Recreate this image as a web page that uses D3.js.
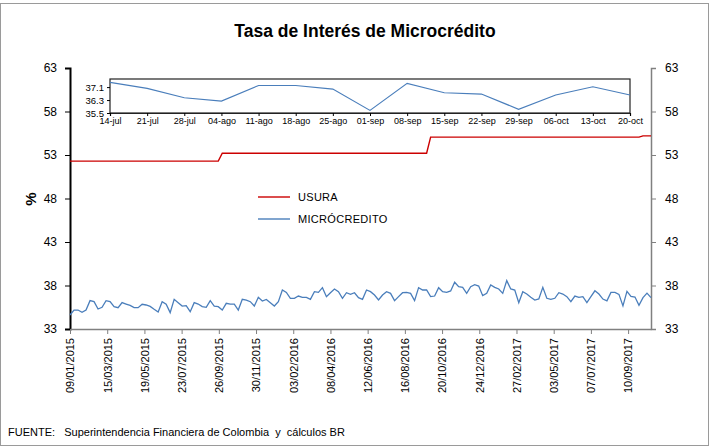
<!DOCTYPE html>
<html>
<head>
<meta charset="utf-8">
<script src="https://cdn.jsdelivr.net/npm/d3@7"></script>
<style>
  body { margin: 0; background: #fff; }
  text { font-family: "Liberation Sans", Arial, sans-serif; fill: #000; }
</style>
</head>
<body>
<div id="chart"></div>
<script>
// weekly observations (Fridays) 09/01/2015 .. 20/10/2017
var firstDate = new Date(2015, 0, 9),
    lastDate = new Date(2017, 9, 20);

var microcredito = [
  34.61, 35.18, 35.18, 34.92, 35.18, 36.26, 36.14, 35.30, 35.49, 36.26,
  36.14, 35.57, 35.45, 36.03, 35.87, 35.72, 35.45, 35.45, 35.84, 35.76,
  35.60, 35.26, 34.95, 36.14, 35.84, 34.88, 36.41, 36.03, 35.64, 35.68,
  34.99, 36.03, 35.87, 35.57, 35.49, 36.26, 35.64, 35.57, 35.18, 35.95,
  35.87, 35.87, 35.18, 36.41, 36.33, 36.14, 35.64, 36.64, 36.22, 36.40,
  36.03, 35.64, 36.14, 37.48, 37.21, 36.53, 36.53, 36.79, 36.64, 36.64,
  36.41, 37.29, 37.21, 37.75, 36.71, 37.17, 37.60, 37.29, 36.53, 37.17,
  36.99, 37.17, 36.60,
  36.41, 37.48, 37.29, 36.91, 36.33, 36.91, 37.29, 37.10, 36.26, 36.72,
  37.17, 37.21, 37.10, 36.26, 37.75, 37.48, 37.48, 36.72, 36.79, 37.75,
  37.29, 37.21, 37.37, 38.37, 37.86, 37.79, 37.10, 37.86, 38.10, 37.94,
  36.83, 37.10, 38.06, 37.79, 37.60, 37.10, 38.56, 37.60, 37.48, 36.03,
  37.29, 37.02, 36.64, 36.33, 36.45, 37.79, 36.53, 36.41, 36.53, 37.17,
  37.02, 36.72, 36.14, 36.79, 36.64, 36.72, 36.03, 36.72,
  37.39, 37.02, 36.44, 36.24, 37.20, 37.20, 36.98, 35.66, 37.33, 36.75,
  36.67, 35.73, 36.61, 37.12, 36.61
];

// usury rate changes (date from which each value applies)
var usuraDesde = [new Date(2015, 0, 1), new Date(2015, 9, 1), new Date(2016, 8, 30), new Date(2017, 9, 1)];
var usuraValor = [52.3, 53.2, 55.05, 55.2];

var yTicks = [33, 38, 43, 48, 53, 58, 63];
var insetTicks = [35.5, 36.3, 37.1];

var es = d3.timeFormatLocale({
  dateTime: "%x %X", date: "%d/%m/%Y", time: "%H:%M:%S", periods: ["AM", "PM"],
  days: ["domingo","lunes","martes","miércoles","jueves","viernes","sábado"],
  shortDays: ["dom","lun","mar","mié","jue","vie","sáb"],
  months: ["enero","febrero","marzo","abril","mayo","junio","julio","agosto","septiembre","octubre","noviembre","diciembre"],
  shortMonths: ["ene","feb","mar","abr","may","jun","jul","ago","sep","oct","nov","dic"]
});

var dates = d3.timeDay.range(firstDate, d3.timeDay.offset(lastDate, 1), 7);
var data = dates.map(function(d, i) {
  var k = d3.bisectRight(usuraDesde, d) - 1;
  return {date: d, micro: microcredito[i], usura: usuraValor[k]};
});

// x tick labels every 65 days, as in the source chart
var xTicks = d3.range(16).map(function(i) { return d3.timeDay.offset(firstDate, 65 * i); });

var W = 712, H = 448;
var svg = d3.select("#chart").append("svg")
    .attr("width", W)
    .attr("height", H);

// outer frame
svg.append("rect")
    .attr("x", 0.5).attr("y", 3.5)
    .attr("width", 708).attr("height", 442)
    .attr("fill", "none").attr("stroke", "#9a9a9a");

var plot = {left: 70, right: 651, top: 68, bottom: 329};

var x = d3.scaleTime().domain([firstDate, lastDate]).range([plot.left, plot.right]);
var y = d3.scaleLinear().domain([33, 63]).range([plot.bottom, plot.top]);

// title
svg.append("text")
    .attr("x", 365).attr("y", 37)
    .attr("text-anchor", "middle")
    .style("font-size", "17.5px").style("font-weight", "bold")
    .text("Tasa de Interés de Microcrédito");

// left axis
var yl = svg.append("g")
    .attr("transform", "translate(" + plot.left + ",0)")
    .call(d3.axisLeft(y).tickValues(yTicks).tickSize(5).tickPadding(8));
yl.select(".domain").attr("stroke", "#000").attr("stroke-width", 2);
yl.selectAll(".tick line").attr("stroke", "#000");
yl.selectAll(".tick text").style("font-size", "12px").style("font-family", "Liberation Sans, Arial");

// right axis
var yr = svg.append("g")
    .attr("transform", "translate(" + plot.right + ",0)")
    .call(d3.axisRight(y).tickValues(yTicks).tickSize(5).tickPadding(9));
yr.select(".domain").attr("stroke", "#808080").attr("stroke-width", 1.5);
yr.selectAll(".tick line").attr("stroke", "#808080");
yr.selectAll(".tick text").style("font-size", "12px").style("font-family", "Liberation Sans, Arial");

// bottom axis
var fmt = es.format("%d/%m/%Y");
var xa = svg.append("g")
    .attr("transform", "translate(0," + plot.bottom + ")")
    .call(d3.axisBottom(x).tickValues(xTicks).tickFormat(fmt).tickSize(5).tickSizeOuter(0));
xa.select(".domain").attr("stroke", "#808080").attr("stroke-width", 1.5);
xa.selectAll(".tick line").attr("stroke", "#808080");
xa.selectAll(".tick text")
    .style("font-size", "11px").style("font-family", "Liberation Sans, Arial")
    .attr("text-anchor", "end")
    .attr("transform", "rotate(-90)")
    .attr("x", -9).attr("y", 0).attr("dy", "0.35em");

// "%" label
svg.append("text")
    .attr("transform", "translate(36,199) rotate(-90)")
    .attr("text-anchor", "middle")
    .style("font-size", "15px").style("font-weight", "bold")
    .text("%");

// series
var lineU = d3.line().x(function(d) { return x(d.date); }).y(function(d) { return y(d.usura); });
var lineM = d3.line().x(function(d) { return x(d.date); }).y(function(d) { return y(d.micro); });

svg.append("path").datum(data)
    .attr("d", lineU).attr("fill", "none")
    .attr("stroke", "#cc0000").attr("stroke-width", 1.4);
svg.append("path").datum(data)
    .attr("d", lineM).attr("fill", "none")
    .attr("stroke", "#4a7ebb").attr("stroke-width", 1.3);

// legend
var legend = [{name: "USURA", color: "#cc0000"}, {name: "MICRÓCREDITO", color: "#4a7ebb"}];
legend.forEach(function(l, i) {
  var ly = 197 + i * 22;
  svg.append("line")
      .attr("x1", 258).attr("x2", 290).attr("y1", ly).attr("y2", ly)
      .attr("stroke", l.color).attr("stroke-width", 1.4);
  svg.append("text")
      .attr("x", 298).attr("y", ly + 4)
      .style("font-size", "11px").style("letter-spacing", "0.3px")
      .text(l.name);
});

// inset: last 15 weeks
var last = data.slice(-15);
var inset = {left: 110, right: 630, top: 79, bottom: 113};
var xi = d3.scalePoint().domain(last.map(function(d) { return d.date; })).range([inset.left, inset.right]);
var yi = d3.scaleLinear().domain([35.5, 37.6]).range([inset.bottom, inset.top]);

svg.append("rect")
    .attr("x", inset.left).attr("y", inset.top)
    .attr("width", inset.right - inset.left).attr("height", inset.bottom - inset.top)
    .attr("fill", "#fff").attr("stroke", "#222").attr("stroke-width", 1.2);

var ia = svg.append("g")
    .attr("transform", "translate(" + inset.left + ",0)")
    .call(d3.axisLeft(yi).tickValues(insetTicks).tickFormat(d3.format(".1f")).tickSize(3).tickPadding(3));
ia.select(".domain").remove();
ia.selectAll(".tick text").style("font-size", "9.5px").style("font-family", "Liberation Sans, Arial");

var ib = svg.append("g")
    .attr("transform", "translate(0," + inset.bottom + ")")
    .call(d3.axisBottom(xi).tickFormat(es.format("%d-%b")).tickSize(3).tickPadding(2));
ib.select(".domain").attr("stroke", "#222").attr("stroke-width", 1.2);
ib.selectAll(".tick text").style("font-size", "9px").style("font-family", "Liberation Sans, Arial");

var lineI = d3.line().x(function(d) { return xi(d.date); }).y(function(d) { return yi(d.micro); });
svg.append("path").datum(last)
    .attr("d", lineI).attr("fill", "none")
    .attr("stroke", "#4a7ebb").attr("stroke-width", 1.2);

// source
svg.append("text")
    .attr("x", 8).attr("y", 436)
    .style("font-size", "11px")
    .attr("xml:space", "preserve")
    .text("FUENTE:   Superintendencia Financiera de Colombia  y  cálculos BR");
</script>
</body>
</html>
